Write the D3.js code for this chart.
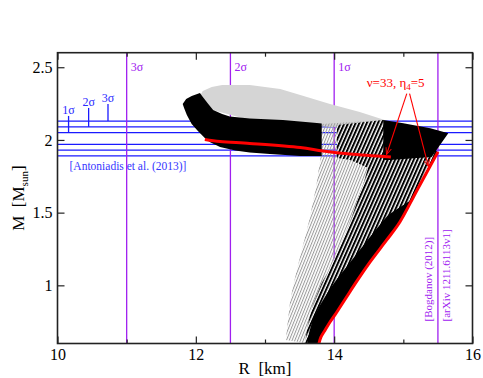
<!DOCTYPE html>
<html>
<head>
<meta charset="utf-8">
<script src="https://cdn.jsdelivr.net/npm/d3@7/dist/d3.min.js"></script>
<style>
  body { margin: 0; background: #fff; }
  svg { display: block; font-family: "Liberation Serif", "Times New Roman", serif; }
</style>
</head>
<body>
<div id="chart"></div>
<script>
// axes
const xDomain = [10, 16];
const yDomain = [0.6, 2.6];
const xMajor = [10, 12, 14, 16];
const xMinor = [11, 13, 15];
const yMajor = [1, 1.5, 2, 2.5];

// Antoniadis et al. (2013): 2.01 +- n*0.04 Msun
const massLines = [1.89, 1.93, 1.97, 2.05, 2.09, 2.13];
const sigmaLabels = ["1σ", "2σ", "3σ"];
const sigmaR = [10.16, 10.45, 10.73];
const sigmaFrom = [2.05, 2.09, 2.13];
const sigmaTo = [2.165, 2.22, 2.247];

// radius limits (vertical lines)
const radiusR = [11, 12.5, 14, 15.5];
const radiusLabels = ["3σ", "2σ", "1σ", ""];

// M-R families, [R km, M Msun] outlines
const grayTopBand = [[12.06, 2.302], [12.10, 2.337], [12.23, 2.364], [12.38, 2.378], [12.78, 2.378],
  [13.22, 2.350], [13.51, 2.309], [13.94, 2.247], [14.37, 2.192], [14.73, 2.137],
  [14.73, 2.096], [13.94, 2.089], [12.78, 2.137], [12.13, 2.220]];
const blackTopLeft = [[11.81, 2.247], [11.86, 2.281], [11.94, 2.302], [12.06, 2.323], [12.09, 2.302],
  [12.18, 2.247], [12.25, 2.206], [12.38, 2.179], [12.49, 2.161], [12.78, 2.147], [13.26, 2.137],
  [13.75, 2.116], [13.82, 2.113], [13.82, 1.890], [13.51, 1.890], [13.07, 1.904], [12.78, 1.914],
  [12.57, 1.927], [12.35, 1.951], [12.20, 1.986], [12.13, 2.013], [12.03, 2.061], [11.94, 2.109],
  [11.87, 2.171], [11.83, 2.219]];
const blackTopRight = [[14.71, 2.137], [15.00, 2.114], [15.39, 2.080], [15.65, 2.046], [15.53, 1.965],
  [15.41, 1.883], [15.10, 1.872], [14.81, 1.862], [14.71, 1.862]];
const grayFanLeft = [[13.30, 0.624], [13.32, 0.713], [13.36, 0.879], [13.40, 0.982], [13.46, 1.105],
  [13.52, 1.222], [13.58, 1.332], [13.64, 1.449], [13.69, 1.566], [13.74, 1.676], [13.77, 1.780],
  [13.80, 1.862], [13.82, 2.109]];
const blackFanLeft = [[13.58, 0.603], [13.61, 0.713], [13.69, 0.865], [13.82, 1.016], [13.94, 1.119],
  [14.06, 1.243], [14.17, 1.367], [14.26, 1.477], [14.34, 1.587], [14.43, 1.711], [14.49, 1.807],
  [14.23, 1.862], [14.04, 1.876], [14.04, 2.103], [14.71, 2.137]];
const denseEdge = [[13.61, 0.603], [13.64, 0.679], [13.69, 0.762], [13.78, 0.851], [13.90, 0.947],
  [14.04, 1.044], [14.20, 1.140], [14.37, 1.243], [14.56, 1.359], [14.78, 1.483], [15.11, 1.587]];

// nu=33, eta4=5 curve (red)
const redLower = [[13.78, 0.6], [13.81, 0.645], [13.87, 0.693], [13.94, 0.748], [14.03, 0.810],
  [14.17, 0.913], [14.34, 1.037], [14.52, 1.161], [14.76, 1.312], [14.95, 1.436], [15.20, 1.656],
  [15.50, 1.918]];
const redUpper = [[12.13, 2.003], [12.35, 1.989], [12.78, 1.976], [13.51, 1.948], [13.84, 1.924],
  [14.23, 1.903], [14.82, 1.883]];
const arrowFrom = [[15.05, 2.319], [15.09, 2.319]];
const arrowTo = [[14.76, 1.903], [15.36, 1.821]];

const W = 483, H = 378;
const margin = {left: 57.5, right: 10.5, top: 52.7, bottom: 34.5};

const x = d3.scaleLinear().domain(xDomain).range([margin.left, W - margin.right]);
const y = d3.scaleLinear().domain(yDomain).range([H - margin.bottom, margin.top]);

const svg = d3.select("#chart").append("svg")
    .attr("width", W)
    .attr("height", H)
    .attr("viewBox", `0 0 ${W} ${H}`);

svg.append("rect").attr("width", W).attr("height", H).attr("fill", "#fff");

const defs = svg.append("defs");
defs.append("clipPath").attr("id", "plot-clip")
  .append("rect")
    .attr("x", x(xDomain[0])).attr("y", y(yDomain[1]))
    .attr("width", x(xDomain[1]) - x(xDomain[0]))
    .attr("height", y(yDomain[0]) - y(yDomain[1]));

// striped fills to mimic the dense bundles of curves
const grayPat = defs.append("pattern").attr("id", "gray-fan")
    .attr("patternUnits", "userSpaceOnUse")
    .attr("width", 2.6).attr("height", 10)
    .attr("patternTransform", "rotate(22)");
grayPat.append("rect").attr("width", 1).attr("height", 10).attr("fill", "#9a9a9a");

const blackPat = defs.append("pattern").attr("id", "black-fan")
    .attr("patternUnits", "userSpaceOnUse")
    .attr("width", 3.4).attr("height", 10)
    .attr("patternTransform", "rotate(24)");
blackPat.append("rect").attr("width", 3.4).attr("height", 10).attr("fill", "#fff");
blackPat.append("rect").attr("width", 2).attr("height", 10).attr("fill", "#000");

defs.append("marker").attr("id", "arrow")
    .attr("viewBox", "0 -5 10 10")
    .attr("refX", 9).attr("refY", 0)
    .attr("markerWidth", 7).attr("markerHeight", 7)
    .attr("markerUnits", "userSpaceOnUse")
    .attr("orient", "auto")
  .append("path")
    .attr("d", "M0,-4L10,0L0,4")
    .attr("fill", "none")
    .attr("stroke", "#ff0000")
    .attr("stroke-width", 1.3);

const line = d3.line().x(d => x(d[0])).y(d => y(d[1]));
const smooth = d3.line().x(d => x(d[0])).y(d => y(d[1])).curve(d3.curveCatmullRom);
const poly = pts => line(pts) + "Z";

const plot = svg.append("g").attr("clip-path", "url(#plot-clip)");

// reference lines go under the curves
plot.selectAll(".mass-line")
  .data(massLines)
  .enter().append("line")
    .attr("class", "mass-line")
    .attr("x1", x(xDomain[0])).attr("x2", x(xDomain[1]))
    .attr("y1", d => y(d)).attr("y2", d => y(d))
    .attr("stroke", "#1a1aff")
    .attr("stroke-width", 1.3);

plot.selectAll(".radius-line")
  .data(radiusR)
  .enter().append("line")
    .attr("class", "radius-line")
    .attr("x1", d => x(d)).attr("x2", d => x(d))
    .attr("y1", y(yDomain[0])).attr("y2", y(yDomain[1]))
    .attr("stroke", "#a020f0")
    .attr("stroke-width", 1.3);

// curve families
plot.append("path").attr("d", poly(grayTopBand)).attr("fill", "#d5d5d5");
plot.append("path").attr("d", poly(grayFanLeft.concat(blackFanLeft.slice().reverse())))
    .attr("fill", "url(#gray-fan)");
plot.append("path").attr("d", poly(blackFanLeft.concat(redLower.slice().reverse())))
    .attr("fill", "url(#black-fan)");
const redBelow = redLower.filter(d => d[1] < denseEdge[denseEdge.length - 1][1]);
plot.append("path").attr("d", poly(denseEdge.concat(redBelow.slice().reverse())))
    .attr("fill", "#000");
plot.append("path").attr("d", poly(blackTopLeft)).attr("fill", "#000");
plot.append("path").attr("d", poly(blackTopRight)).attr("fill", "#000");

plot.selectAll(".red-curve")
  .data([redLower, redUpper])
  .enter().append("path")
    .attr("class", "red-curve")
    .attr("d", smooth)
    .attr("fill", "none")
    .attr("stroke", "#ff0000")
    .attr("stroke-width", 3);

// frame and ticks
svg.append("rect")
    .attr("x", x(xDomain[0])).attr("y", y(yDomain[1]))
    .attr("width", x(xDomain[1]) - x(xDomain[0]))
    .attr("height", y(yDomain[0]) - y(yDomain[1]))
    .attr("fill", "none")
    .attr("stroke", "#222")
    .attr("stroke-width", 1.6);

function styleAxis(g) {
  g.select(".domain").remove();
  g.selectAll(".tick line").attr("stroke", "#222").attr("stroke-width", 1.2);
  g.selectAll(".tick text").attr("fill", "#000").attr("font-size", 16)
    .attr("font-family", "Liberation Serif, Times New Roman, serif");
}
const fmt = d3.format("");

svg.append("g").attr("transform", `translate(0,${y(yDomain[0])})`)
  .call(d3.axisBottom(x).tickValues(xMajor).tickSize(-7).tickPadding(5).tickFormat(fmt)).call(styleAxis);
svg.append("g").attr("transform", `translate(0,${y(yDomain[0])})`)
  .call(d3.axisBottom(x).tickValues(xMinor).tickSize(-4).tickFormat("")).call(styleAxis);
svg.append("g").attr("transform", `translate(0,${y(yDomain[1])})`)
  .call(d3.axisTop(x).tickValues(xMajor).tickSize(-7).tickFormat("")).call(styleAxis);
svg.append("g").attr("transform", `translate(0,${y(yDomain[1])})`)
  .call(d3.axisTop(x).tickValues(xMinor).tickSize(-4).tickFormat("")).call(styleAxis);
svg.append("g").attr("transform", `translate(${x(xDomain[0])},0)`)
  .call(d3.axisLeft(y).tickValues(yMajor).tickSize(-7).tickPadding(5).tickFormat(fmt)).call(styleAxis);
svg.append("g").attr("transform", `translate(${x(xDomain[1])},0)`)
  .call(d3.axisRight(y).tickValues(yMajor).tickSize(-7).tickFormat("")).call(styleAxis);

// axis titles
svg.append("text")
    .attr("x", x(13)).attr("y", 374)
    .attr("text-anchor", "middle")
    .attr("font-size", 17)
    .style("white-space", "pre")
    .text("R  [km]");

const yTitle = svg.append("text")
    .attr("transform", `translate(24,${y(1.6)}) rotate(-90)`)
    .attr("text-anchor", "middle")
    .attr("font-size", 17)
    .style("white-space", "pre");
yTitle.append("tspan").text("M  [M");
yTitle.append("tspan").attr("font-size", 11).attr("dy", 4).text("sun");
yTitle.append("tspan").attr("dy", -4).text("]");

// sigma markers on the mass bands
const marks = svg.append("g");
sigmaLabels.forEach((lab, i) => {
  marks.append("line")
      .attr("x1", x(sigmaR[i])).attr("x2", x(sigmaR[i]))
      .attr("y1", y(sigmaFrom[i])).attr("y2", y(sigmaTo[i]))
      .attr("stroke", "#1a1aff").attr("stroke-width", 1.3);
  marks.append("text")
      .attr("x", x(sigmaR[i])).attr("y", y(sigmaTo[i]) - 2)
      .attr("text-anchor", "middle")
      .attr("font-size", 12)
      .attr("fill", "#2a2aff")
      .text(lab);
});

svg.append("text")
    .attr("x", x(xDomain[0]) + 12).attr("y", y(massLines[0]) + 14)
    .attr("font-size", 11.5)
    .attr("fill", "#3535ff")
    .text("[Antoniadis et al. (2013)]");

// radius labels
svg.selectAll(".radius-label")
  .data(radiusR.filter((d, i) => radiusLabels[i]))
  .enter().append("text")
    .attr("class", "radius-label")
    .attr("x", d => x(d) + 4)
    .attr("y", y(yDomain[1]) + 18)
    .attr("font-size", 12)
    .attr("fill", "#a020f0")
    .text((d, i) => radiusLabels[i]);

const rLast = x(radiusR[3]);
[["[Bogdanov (2012)]", rLast - 5.5], ["[arXiv 1211.6113v1]", rLast + 12.5]].forEach(([t, px]) => {
  svg.append("text")
      .attr("transform", `translate(${px},${y(yDomain[0]) - 22}) rotate(-90)`)
      .attr("font-size", 11)
      .attr("fill", "#a020f0")
      .text(t);
});

// annotation
const note = svg.append("text")
    .attr("x", x(14.47)).attr("y", y(2.366))
    .attr("font-size", 13)
    .attr("fill", "#ff0000");
note.append("tspan").text("ν=33, η");
note.append("tspan").attr("font-size", 9).attr("dy", 3).text("4");
note.append("tspan").attr("dy", -3).text("=5");

arrowFrom.forEach((a, i) => {
  svg.append("line")
      .attr("x1", x(a[0])).attr("y1", y(a[1]))
      .attr("x2", x(arrowTo[i][0])).attr("y2", y(arrowTo[i][1]))
      .attr("stroke", "#ff0000")
      .attr("stroke-width", 1.1)
      .attr("marker-end", "url(#arrow)");
});
</script>
</body>
</html>
